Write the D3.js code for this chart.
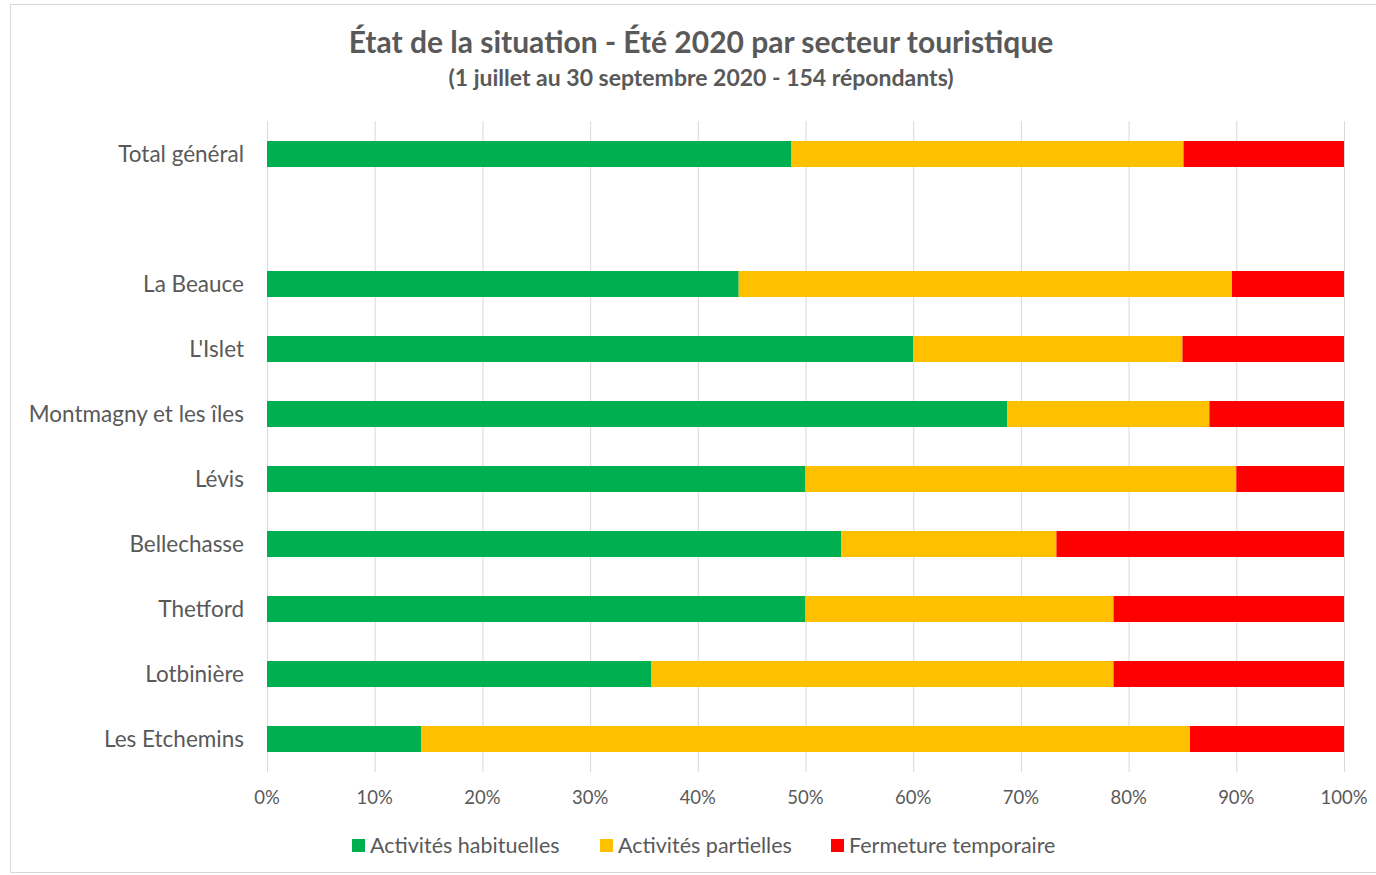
<!DOCTYPE html>
<html>
<head>
<meta charset="utf-8">
<script src="https://cdn.jsdelivr.net/npm/d3@7"></script>
<style>
  body { margin: 0; background: #fff; }
  text { font-family: Lato, "Open Sans", sans-serif; fill: #595959; }
</style>
</head>
<body>
<div id="container"></div>
<script>
// data (share of respondents, %)
let categories = ["Total général", " ", "La Beauce", "L'Islet", "Montmagny et les îles", "Lévis",
                  "Bellechasse", "Thetford", "Lotbinière", "Les Etchemins"];
let habituelles = [48.7, null, 43.8, 60.0, 68.75, 50.0, 53.3, 50.0, 35.7, 14.3];
let partielles  = [36.4, null, 45.8, 25.0, 18.75, 40.0, 20.0, 28.6, 42.9, 71.4];
let fermeture   = [14.9, null, 10.4, 15.0, 12.5, 10.0, 26.7, 21.4, 21.4, 14.3];
let seriesNames = ["Activités habituelles", "Activités partielles", "Fermeture temporaire"];
let colors = ["#00b050", "#ffc000", "#ff0000"];
let ticks = [0, 10, 20, 30, 40, 50, 60, 70, 80, 90, 100];

let w = 1376;
let h = 875;
let viz = d3.select("#container").append("svg")
    .attr("width", w)
    .attr("height", h);

// chart frame
viz.append("rect")
    .attr("x", 10.5).attr("y", 4.5)
    .attr("width", 1380).attr("height", 868)
    .attr("fill", "#fff")
    .attr("stroke", "#d9d9d9");

let x = d3.scaleLinear().domain([0, 100]).range([267, 1344]);
let y = d3.scaleBand().domain(categories).range([121.5, 771.5])
    .paddingInner(0.6).paddingOuter(0.3);

// grid
viz.append("g").selectAll("line")
    .data(ticks)
    .join("line")
    .attr("x1", d => x(d) + 0.5).attr("x2", d => x(d) + 0.5)
    .attr("y1", 121).attr("y2", 772)
    .attr("stroke", "#d9d9d9");

// stacked bars
let rows = categories.map((c, i) => ({cat: c, v: [habituelles[i], partielles[i], fermeture[i]]}))
    .filter(r => r.v[0] != null);
let barG = viz.append("g");
rows.forEach(r => {
  let start = 0;
  r.v.forEach((v, k) => {
    barG.append("rect")
      .attr("x", x(start))
      .attr("y", y(r.cat))
      .attr("width", x(start + v) - x(start))
      .attr("height", y.bandwidth())
      .attr("fill", colors[k]);
    start += v;
  });
});

// category labels
viz.append("g").selectAll("text")
    .data(categories)
    .join("text")
    .text(d => d.trim())
    .attr("x", 244)
    .attr("y", d => y(d) + y.bandwidth() / 2)
    .attr("dy", "0.35em")
    .attr("text-anchor", "end")
    .attr("font-size", 22.5);

// x tick labels
viz.append("g").selectAll("text")
    .data(ticks)
    .join("text")
    .text(d => d + "%")
    .attr("x", d => x(d))
    .attr("y", 798)
    .attr("dy", "0.35em")
    .attr("text-anchor", "middle")
    .attr("font-size", 18.5);

// title
viz.append("text")
    .text("État de la situation - Été 2020 par secteur touristique")
    .attr("x", 701).attr("y", 53)
    .attr("text-anchor", "middle")
    .attr("font-size", 30)
    .attr("font-weight", 700);
viz.append("text")
    .text("(1 juillet au 30 septembre 2020 - 154 répondants)")
    .attr("x", 701).attr("y", 86)
    .attr("text-anchor", "middle")
    .attr("font-size", 23)
    .attr("font-weight", 700);

// legend
let legX = [352, 600, 831];
let leg = viz.append("g").selectAll("g")
    .data(seriesNames)
    .join("g")
    .attr("transform", (d, i) => "translate(" + legX[i] + ",845)");
leg.append("rect")
    .attr("x", 0).attr("y", -6)
    .attr("width", 13).attr("height", 13)
    .attr("fill", (d, i) => colors[i]);
leg.append("text")
    .text(d => d)
    .attr("x", 18).attr("y", 0)
    .attr("dy", "0.35em")
    .attr("font-size", 21.5);
</script>
</body>
</html>
